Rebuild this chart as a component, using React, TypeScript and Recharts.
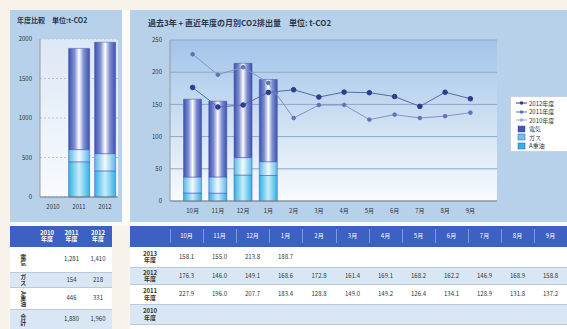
import { ComposedChart, BarChart, Bar, Line, XAxis, YAxis, CartesianGrid } from "recharts";

const months = ["10月", "11月", "12月", "1月", "2月", "3月", "4月", "5月", "6月", "7月", "8月", "9月"];
const elec2013 = [120.9, 117.6, 146.4, 127.7];
const gas2013 = [24.8, 25.3, 27.1, 21.4];
const oil2013 = [12.4, 12.1, 40.3, 39.6];
const total2013 = [158.1, 155.0, 213.8, 188.7];
const line2012 = [176.3, 146.0, 149.1, 168.6, 172.8, 161.4, 169.1, 168.2, 162.2, 146.9, 168.9, 158.8];
const line2011 = [227.9, 196.0, 207.7, 183.4, 128.8, 149.0, 149.2, 126.4, 134.1, 128.9, 131.8, 137.2];
const mainTicks = [0, 50, 100, 150, 200, 250];

const years = ["2010", "2011", "2012"];
const yearElec = [null, 1281, 1410];
const yearGas = [null, 154, 218];
const yearOil = [null, 446, 331];
const yearTotal = ["", "1,880", "1,960"];
const yearTicks = [0, 500, 1000, 1500, 2000];

const tableYears = ["2013", "2012", "2011", "2010"];
const fuelLabels = ["電気", "ガス", "A重油", "合計"];

const FONT = "'Noto Sans CJK JP', 'Noto Sans', sans-serif";
const PANEL = "#b7d1eb";
const CREAM = "#f7f3ea";
const HEAD = "#3b62c2";
const ROW_ALT = "#d9e7f5";

const monthData = months.map((m, i) => ({
  m,
  elec: elec2013[i] ?? null,
  gas: gas2013[i] ?? null,
  oil: oil2013[i] ?? null,
  y2012: line2012[i],
  y2011: line2011[i],
}));

const yearData = years.map((y, i) => ({
  y,
  elec: yearElec[i],
  gas: yearGas[i],
  oil: yearOil[i],
}));

function Defs({ id }: { id: string }) {
  return (
    <defs>
      <linearGradient id={`${id}bg`} x1="0" y1="0" x2="0" y2="1">
        <stop offset="0" stopColor={id === "m" ? "#a3c4e8" : "#dce8f5"} />
        <stop offset="1" stopColor="#f8fbfe" />
      </linearGradient>
      <linearGradient id={`${id}elec`} x1="0" y1="0" x2="1" y2="0">
        <stop offset="0" stopColor="#3d50ae" />
        <stop offset="0.28" stopColor="#7f8fd2" />
        <stop offset="0.5" stopColor="#ffffff" />
        <stop offset="0.72" stopColor="#7f8fd2" />
        <stop offset="1" stopColor="#3d50ae" />
      </linearGradient>
      <linearGradient id={`${id}gas`} x1="0" y1="0" x2="1" y2="0">
        <stop offset="0" stopColor="#5ab8e6" />
        <stop offset="0.5" stopColor="#f2fafe" />
        <stop offset="1" stopColor="#5ab8e6" />
      </linearGradient>
      <linearGradient id={`${id}oil`} x1="0" y1="0" x2="1" y2="0">
        <stop offset="0" stopColor="#2fb2e6" />
        <stop offset="0.5" stopColor="#c8ecfa" />
        <stop offset="1" stopColor="#2fb2e6" />
      </linearGradient>
    </defs>
  );
}

const tickStyle = { fontSize: 6, fill: "#333", fontFamily: FONT };

function Legend() {
  const items = [
    { label: "2012年度", kind: "line", color: "#2c3d8f" },
    { label: "2011年度", kind: "line", color: "#5d73b5" },
    { label: "2010年度", kind: "line", color: "#9aaad0" },
    { label: "電気", kind: "bar", color: "#4456b2" },
    { label: "ガス", kind: "bar", color: "#6cc3ec" },
    { label: "A重油", kind: "bar", color: "#2fb2e6" },
  ];
  return (
    <div style={{ position: "absolute", left: 380, top: 86, width: 57, height: 56, background: "#fff", border: "1px solid #c3d2e5", borderRight: "none", boxSizing: "border-box", paddingTop: 2 }}>
      {items.map((it) => (
        <div key={it.label} style={{ display: "flex", alignItems: "center", height: 8.5, fontSize: 6, color: "#333", fontFamily: FONT }}>
          <svg width={14} height={8} style={{ marginLeft: 4 }}>
            {it.kind === "line" ? (
              <>
                <line x1={1} y1={4} x2={12} y2={4} stroke={it.color} strokeWidth={1} />
                <circle cx={6.5} cy={4} r={1.8} fill={it.color} />
              </>
            ) : (
              <rect x={3} y={1} width={7} height={6} fill={it.color} stroke="#3d50ae" strokeWidth={0.5} />
            )}
          </svg>
          <span>{it.label}</span>
        </div>
      ))}
    </div>
  );
}

function Cell({ x, y, w, h, bg, children, color = "#333", bold = false, vertical = false, border = "#b9c9dd" }: any) {
  return (
    <div
      style={{
        position: "absolute", left: x, top: y, width: w, height: h, background: bg,
        display: "flex", alignItems: "center", justifyContent: "center",
        fontSize: 6, color, fontWeight: bold ? 700 : 400, fontFamily: FONT, lineHeight: 1.05,
        borderBottom: `1px solid ${border}`, boxSizing: "border-box", textAlign: "center",
        writingMode: vertical ? "vertical-rl" : undefined, whiteSpace: "pre",
      }}
    >
      {children}
    </div>
  );
}

function LeftTable() {
  const colX = [10, 35, 59, 84];
  const colW = [25, 24, 25, 28];
  const rowY = [247, 273, 288, 310];
  const rowH = [26, 15, 22, 20];
  const vals = [
    ["", "1,281", "1,410"],
    ["", "154", "218"],
    ["", "446", "331"],
    ["", yearTotal[1], yearTotal[2]],
  ];
  return (
    <>
      {colX.map((x, c) => (
        <Cell key={`h${c}`} x={x} y={226} w={colW[c]} h={21} bg={HEAD} color="#fff" bold border={HEAD}>
          {c === 0 ? "" : `${years[c - 1]}\n年度`}
        </Cell>
      ))}
      {rowY.map((y, r) =>
        colX.map((x, c) => (
          <Cell key={`${r}-${c}`} x={x} y={y} w={colW[c]} h={rowH[r]} bg={r % 2 ? ROW_ALT : "#fff"} bold={c === 0} vertical={c === 0}>
            {c === 0 ? fuelLabels[r] : vals[r][c - 1]}
          </Cell>
        ))
      )}
    </>
  );
}

function RightTable() {
  const x0 = 130;
  const labelW = 40;
  const colW = 33.1;
  const cx = (i: number) => Math.round(x0 + labelW + i * colW);
  const rowY = [247, 268, 285, 305];
  const rowH = [21, 17, 20, 20];
  const rows = [total2013, line2012, line2011, [] as number[]];
  return (
    <>
      <div style={{ position: "absolute", left: x0, top: 247, width: 437, height: 82, background: "#fff" }} />
      <Cell x={x0} y={226} w={labelW} h={21} bg={HEAD} border={HEAD} />
      {months.map((m, i) => (
        <Cell key={m} x={cx(i)} y={226} w={cx(i + 1) - cx(i)} h={21} bg={HEAD} color="#fff" border={HEAD}>
          <span style={{ borderLeft: "1px solid #7d9ae0", position: "absolute", left: 0, top: 3, bottom: 3 }} />
          {m}
        </Cell>
      ))}
      {rowY.map((y, r) => (
        <div key={r}>
          <Cell x={x0} y={y} w={437} h={rowH[r]} bg={r % 2 ? ROW_ALT : "#fff"} />
          <Cell x={x0} y={y} w={labelW} h={rowH[r]} bg="transparent" bold>
            {`${tableYears[r]}\n年度`}
          </Cell>
          {months.map((m, i) => (
            <Cell key={m} x={cx(i)} y={y} w={cx(i + 1) - cx(i)} h={rowH[r]} bg="transparent" border="transparent">
              {rows[r][i] !== undefined ? rows[r][i].toFixed(1) : ""}
            </Cell>
          ))}
        </div>
      ))}
    </>
  );
}

export default function App() {
  return (
    <div style={{ position: "absolute", left: 0, top: 0, width: 567, height: 329, overflow: "hidden", background: CREAM, fontFamily: FONT }}>
      <div style={{ position: "absolute", left: 122, top: 10, width: 8, height: 216, background: "#fbfbf8" }} />
      <div style={{ position: "absolute", left: 10, top: 222, width: 557, height: 4, background: "#fbfbf8" }} />

      {/* left panel: yearly comparison */}
      <div style={{ position: "absolute", left: 10, top: 10, width: 112, height: 212, background: PANEL }}>
        <div style={{ position: "absolute", left: 7, top: 5, fontSize: 7, fontWeight: 700, color: "#2a3550", whiteSpace: "nowrap" }}>
          年度比較　単位:t-CO2
        </div>
        <BarChart width={112} height={212} data={yearData} margin={{ top: 29, right: 4, bottom: 11, left: 4 }} barCategoryGap="10%">
          <Defs id="l" />
          <CartesianGrid vertical={false} stroke="#b9c6d8" strokeDasharray="2 2" fill="url(#lbg)" />
          <XAxis dataKey="y" tick={tickStyle} tickLine={false} axisLine={{ stroke: "#777" }} height={14} />
          <YAxis domain={[0, 2000]} ticks={yearTicks} tick={tickStyle} tickLine={false} axisLine={{ stroke: "#999" }} width={26} />
          <Bar dataKey="oil" stackId="a" fill="url(#loil)" stroke="#3d50ae" strokeWidth={0.5} isAnimationActive={false} />
          <Bar dataKey="gas" stackId="a" fill="url(#lgas)" stroke="#3d50ae" strokeWidth={0.5} isAnimationActive={false} />
          <Bar dataKey="elec" stackId="a" fill="url(#lelec)" stroke="#3d50ae" strokeWidth={0.5} isAnimationActive={false} />
        </BarChart>
      </div>

      {/* main panel: monthly trend */}
      <div style={{ position: "absolute", left: 130, top: 10, width: 437, height: 212, background: PANEL }}>
        <div style={{ position: "absolute", left: 18, top: 7, fontSize: 8, fontWeight: 700, color: "#2a3550", whiteSpace: "nowrap" }}>
          過去3年 + 直近年度の月別CO2排出量　単位: t-CO2
        </div>
        <ComposedChart width={437} height={212} data={monthData} margin={{ top: 30, right: 70, bottom: 7, left: 10 }} barCategoryGap="14%">
          <Defs id="m" />
          <CartesianGrid vertical={false} stroke="#8ea7c6" fill="url(#mbg)" />
          <XAxis dataKey="m" tick={tickStyle} tickLine={false} axisLine={{ stroke: "#888" }} height={14} padding={{ left: 10, right: 14 }} />
          <YAxis domain={[0, 250]} ticks={mainTicks} tick={tickStyle} tickLine={false} axisLine={{ stroke: "#999" }} width={30} />
          <Bar dataKey="oil" stackId="a" fill="url(#moil)" stroke="#3d50ae" strokeWidth={0.5} isAnimationActive={false} />
          <Bar dataKey="gas" stackId="a" fill="url(#mgas)" stroke="#3d50ae" strokeWidth={0.5} isAnimationActive={false} />
          <Bar dataKey="elec" stackId="a" fill="url(#melec)" stroke="#3d50ae" strokeWidth={0.5} isAnimationActive={false} />
          <Line dataKey="y2011" stroke="#7f95c6" strokeWidth={1} dot={{ r: 1.8, fill: "#5d73b5", stroke: "#5d73b5" }} isAnimationActive={false} />
          <Line dataKey="y2012" stroke="#5669a8" strokeWidth={1} dot={{ r: 2.3, fill: "#2c3d8f", stroke: "#2c3d8f" }} isAnimationActive={false} />
        </ComposedChart>
        <Legend />
      </div>

      <LeftTable />
      <RightTable />
    </div>
  );
}
